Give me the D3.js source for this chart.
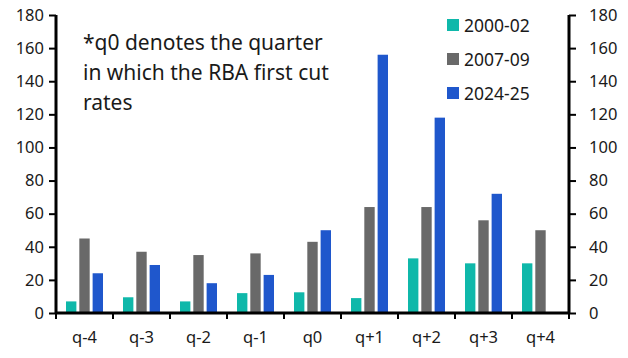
<!DOCTYPE html>
<html><head><meta charset="utf-8">
<script src="https://cdn.jsdelivr.net/npm/d3@7"></script>
<style>body{margin:0;background:#fff}svg{display:block}text{font-family:"Noto Sans",sans-serif;fill:#1a1a1a}</style>
</head><body>
<script>
const categories = ["q-4","q-3","q-2","q-1","q0","q+1","q+2","q+3","q+4"];
const seriesNames = ["2000-02","2007-09","2024-25"];
const s2000 = [7, 9.5, 7, 12, 12.5, 9, 33, 30, 30];
const s2007 = [45, 37, 35, 36, 43, 64, 64, 56, 50];
const s2024 = [24, 29, 18, 23, 50, 156, 118, 72, null];
const colors = ["#0fb8aa", "#696969", "#1f57cc"];
const yTicks = [0,20,40,60,80,100,120,140,160,180];
const note = ["*q0 denotes the quarter","in which the RBA first cut","rates"];

const W=628,H=358, L=56, R=569, T=15, B=313;
const FONT="'Noto Sans',sans-serif";
const svg=d3.select("body").append("svg").attr("width",W).attr("height",H);
const x=d3.scaleBand().domain(categories).range([L,R]);
const y=d3.scaleLinear().domain([0,180]).range([B,T]);
const series=[s2000,s2007,s2024];
const xs=d3.scaleBand().domain([0,1,2]).range([10,47]).paddingInner(0.22);

series.forEach((s,i)=>{
  svg.append("g").selectAll("rect").data(categories.map((c,j)=>({c,v:s[j]})).filter(d=>d.v!=null))
    .join("rect").attr("x",d=>x(d.c)+xs(i)).attr("width",xs.bandwidth())
    .attr("y",d=>y(d.v)).attr("height",d=>B-y(d.v)).attr("fill",colors[i]);
});

const fs=16.5;
const la=svg.append("g").attr("transform",`translate(${L},0)`).call(d3.axisLeft(y).tickValues(yTicks).tickSize(7).tickPadding(5));
const ra=svg.append("g").attr("transform",`translate(${R},0)`).call(d3.axisRight(y).tickValues(yTicks).tickSize(7).tickPadding(13));
[la,ra].forEach(a=>{
  a.select(".domain").attr("stroke","#000").attr("stroke-width",3).attr("d",`M0,${T}V${B}`);
  a.selectAll(".tick line").attr("stroke","#000").attr("stroke-width",2);
  a.selectAll("text").attr("font-size",fs).attr("font-family",FONT).attr("fill","#1a1a1a");
});
const xa=svg.append("g").attr("transform",`translate(0,${B})`);
xa.append("line").attr("x1",L).attr("x2",R).attr("stroke","#000").attr("stroke-width",3);
xa.selectAll(".tk").data(categories.concat(["end"])).join("line")
  .attr("x1",(d,i)=>L+i*x.step()).attr("x2",(d,i)=>L+i*x.step()).attr("y1",0).attr("y2",6)
  .attr("stroke","#000").attr("stroke-width",2);
xa.selectAll(".lb").data(categories).join("text")
  .attr("x",d=>x(d)+x.bandwidth()/2).attr("y",30).attr("text-anchor","middle")
  .attr("font-size",fs).text(d=>d);

svg.selectAll(".note").data(note).join("text").attr("x",83).attr("y",(d,i)=>50+i*30)
  .attr("font-size",21).text(d=>d);

const lg=svg.append("g");
seriesNames.forEach((n,i)=>{
  const cy=25+i*34;
  lg.append("rect").attr("x",447).attr("y",cy-6).attr("width",12).attr("height",12).attr("fill",colors[i]);
  lg.append("text").attr("x",464).attr("y",cy+7).attr("font-size",17.5).text(n);
});
</script>
</body></html>
